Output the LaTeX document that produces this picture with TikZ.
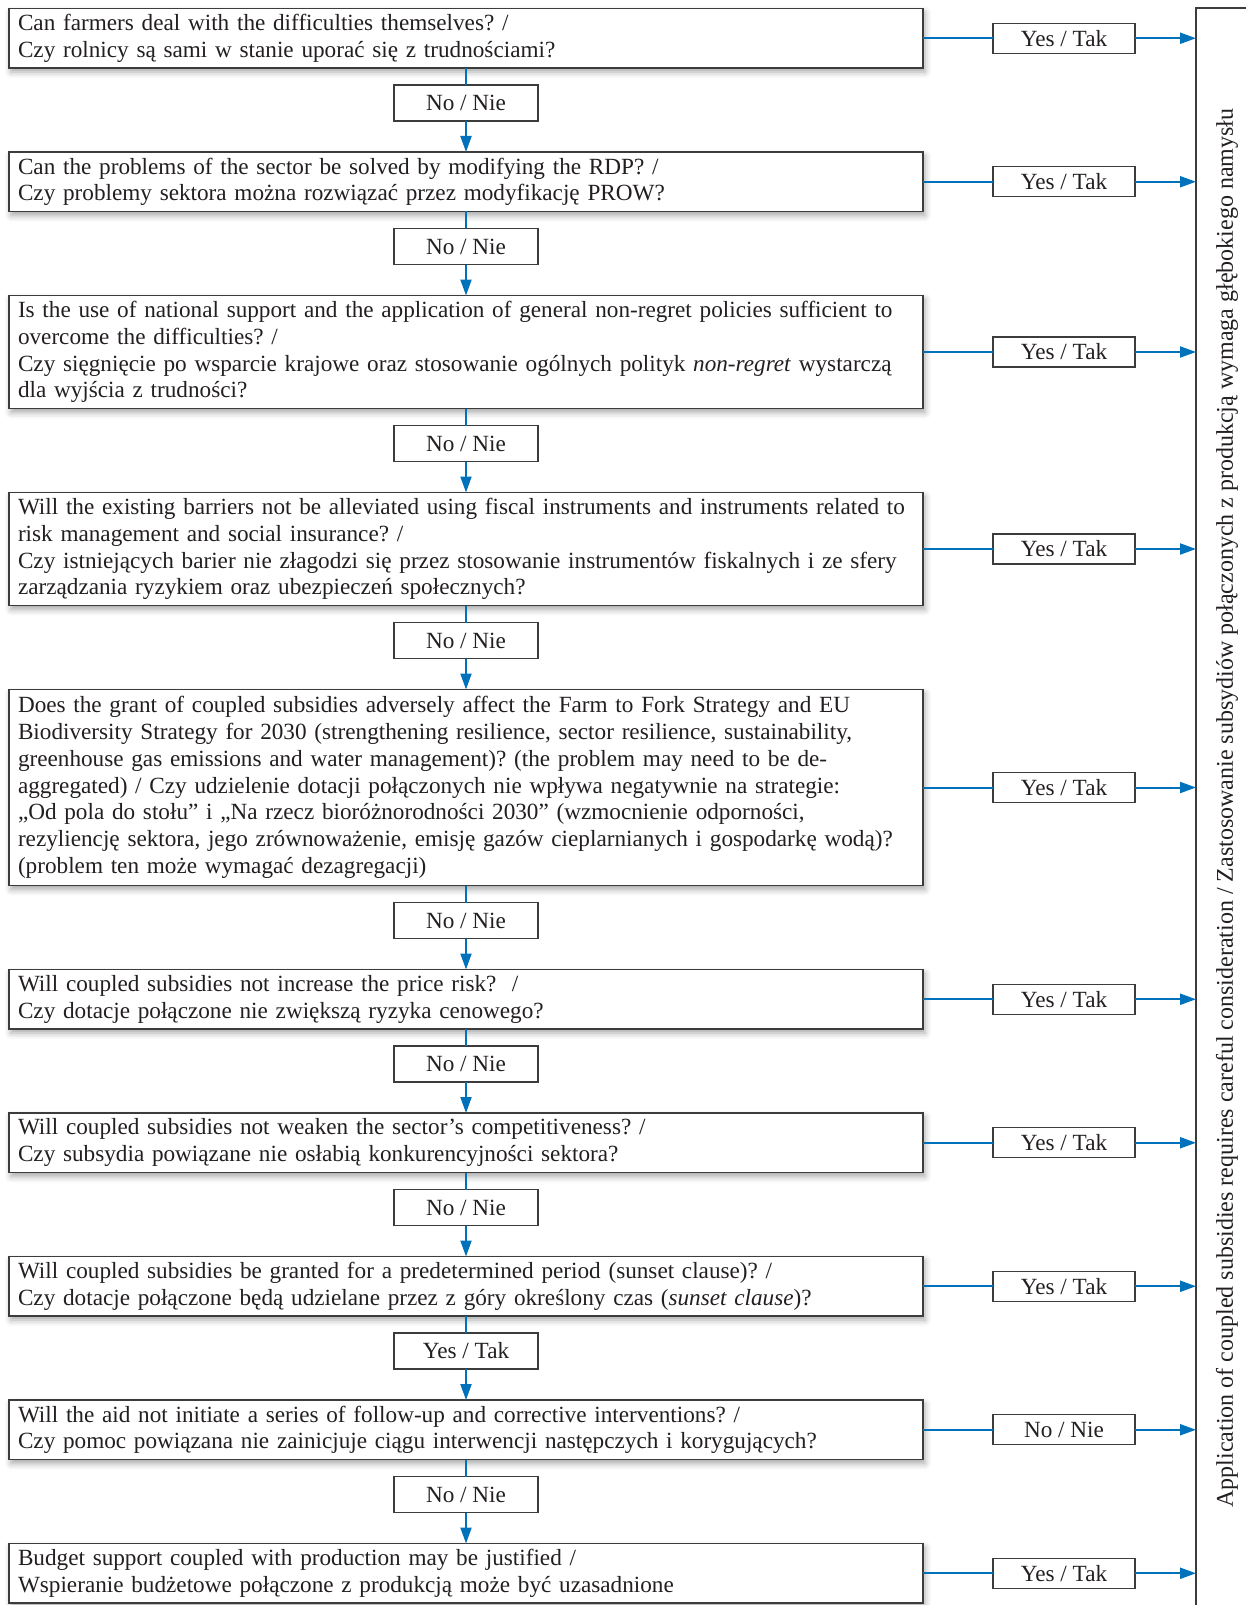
\documentclass[tikz,border=0pt]{standalone}
\usepackage{fontspec}
\setmainfont{Liberation Serif}
\usepackage{tikz}
\usetikzlibrary{positioning,arrows.meta,shadows.blur}
\frenchspacing
\definecolor{flowBlue}{RGB}{0,114,188}
\definecolor{boxGray}{RGB}{60,60,60}
\definecolor{textDark}{RGB}{35,31,32}
\tikzstyle{flowSheet} = [x = 1pt, y = -1pt, every node/.style={text=textDark, outer sep=0pt, font=\fontsize{23.2pt}{26.8pt}\selectfont}]
\tikzstyle{questionStyle} = [draw=boxGray, line width=1.2pt, fill=white, text width=896pt, inner xsep=9pt, inner ysep=0pt, align=left, blur shadow={shadow xshift=2pt, shadow yshift=-4pt, shadow blur radius=6pt, shadow opacity=35}]
\tikzstyle{answerStyle} = [draw=boxGray, line width=1.2pt, fill=white, minimum width=144pt, minimum height=36pt, inner sep=0pt]
\tikzstyle{sideAnswerStyle} = [answerStyle, minimum width=142pt, minimum height=30pt]
\tikzstyle{sideBox} = [draw=boxGray, line width=1.2pt, minimum width=120pt, minimum height=1650pt, inner sep=0pt]
\tikzstyle{sideText} = [font=\fontsize{24pt}{28pt}\selectfont, rotate=90]
\tikzstyle{flowLine} = [color=flowBlue, line width=2pt]
\tikzstyle{flowArrow} = [flowLine, -{Triangle[length=16pt, width=11pt]}]
\newcommand{\questionBelow}[4]{
  \node [questionStyle, minimum height=#3, below=31pt of #2] (#1) {#4};
  \draw [flowArrow] (#2) -- (#1);
}
\newcommand{\answerBelow}[3]{
  \node [answerStyle, below=17pt of #2] (#1) {#3};
  \draw [flowLine] (#2) -- (#1);
}
\newcommand{\answerRight}[3]{
  \node [sideAnswerStyle, right=70pt of #2] (#1) {#3};
  \draw [flowLine] (#2) -- (#1);
  \draw [flowArrow] (#1) -- (#1 -| side.west);
}

\begin{document}
\begin{tikzpicture}[flowSheet]
    \useasboundingbox (0,0) rectangle (1246,1605);
    \node [sideBox, anchor=north west] (side) at (1196,8) {};
    \node [sideText] (sideLabel) at (1227,808) {Application of coupled subsidies requires careful consideration / Zastosowanie subsydiów połączonych z produkcją wymaga głębokiego namysłu};
    \node [questionStyle, minimum height=59.5pt, anchor=north west] (q1) at (9,8.5) {Can farmers deal with the difficulties themselves? /\\Czy rolnicy są sami w stanie uporać się z trudnościami?};
    \answerRight{y1}{q1}{Yes / Tak}
    \answerBelow{n1}{q1}{No / Nie}
    \questionBelow{q2}{n1}{59.5pt}{Can the problems of the sector be solved by modifying the RDP? /\\Czy problemy sektora można rozwiązać przez modyfikację PROW?}
    \answerRight{y2}{q2}{Yes / Tak}
    \answerBelow{n2}{q2}{No / Nie}
    \questionBelow{q3}{n2}{113pt}{Is the use of national support and the application of general non-regret policies sufficient to\\overcome the difficulties? /\\Czy sięgnięcie po wsparcie krajowe oraz stosowanie ogólnych polityk \textit{non-regret} wystarczą\\dla wyjścia z trudności?}
    \answerRight{y3}{q3}{Yes / Tak}
    \answerBelow{n3}{q3}{No / Nie}
    \questionBelow{q4}{n3}{113pt}{Will the existing barriers not be alleviated using fiscal instruments and instruments related to\\risk management and social insurance? /\\Czy istniejących barier nie złagodzi się przez stosowanie instrumentów fiskalnych i ze sfery\\zarządzania ryzykiem oraz ubezpieczeń społecznych?}
    \answerRight{y4}{q4}{Yes / Tak}
    \answerBelow{n4}{q4}{No / Nie}
    \questionBelow{q5}{n4}{196pt}{Does the grant of coupled subsidies adversely affect the Farm to Fork Strategy and EU\\Biodiversity Strategy for 2030 (strengthening resilience, sector resilience, sustainability,\\greenhouse gas emissions and water management)? (the problem may need to be de-\\aggregated) / Czy udzielenie dotacji połączonych nie wpływa negatywnie na strategie:\\„Od pola do stołu” i „Na rzecz bioróżnorodności 2030” (wzmocnienie odporności,\\rezyliencję sektora, jego zrównoważenie, emisję gazów cieplarnianych i gospodarkę wodą)?\\(problem ten może wymagać dezagregacji)}
    \answerRight{y5}{q5}{Yes / Tak}
    \answerBelow{n5}{q5}{No / Nie}
    \questionBelow{q6}{n5}{59.5pt}{Will coupled subsidies not increase the price risk?~~/\\Czy dotacje połączone nie zwiększą ryzyka cenowego?}
    \answerRight{y6}{q6}{Yes / Tak}
    \answerBelow{n6}{q6}{No / Nie}
    \questionBelow{q7}{n6}{59.5pt}{Will coupled subsidies not weaken the sector’s competitiveness? /\\Czy subsydia powiązane nie osłabią konkurencyjności sektora?}
    \answerRight{y7}{q7}{Yes / Tak}
    \answerBelow{n7}{q7}{No / Nie}
    \questionBelow{q8}{n7}{59.5pt}{Will coupled subsidies be granted for a predetermined period (sunset clause)? /\\Czy dotacje połączone będą udzielane przez z góry określony czas (\textit{sunset clause})?}
    \answerRight{y8}{q8}{Yes / Tak}
    \answerBelow{n8}{q8}{Yes / Tak}
    \questionBelow{q9}{n8}{59.5pt}{Will the aid not initiate a series of follow-up and corrective interventions? /\\Czy pomoc powiązana nie zainicjuje ciągu interwencji następczych i korygujących?}
    \answerRight{y9}{q9}{No / Nie}
    \answerBelow{n9}{q9}{No / Nie}
    \questionBelow{q10}{n9}{59.5pt}{Budget support coupled with production may be justified /\\Wspieranie budżetowe połączone z produkcją może być uzasadnione}
    \answerRight{y10}{q10}{Yes / Tak}
\end{tikzpicture}
\end{document}
